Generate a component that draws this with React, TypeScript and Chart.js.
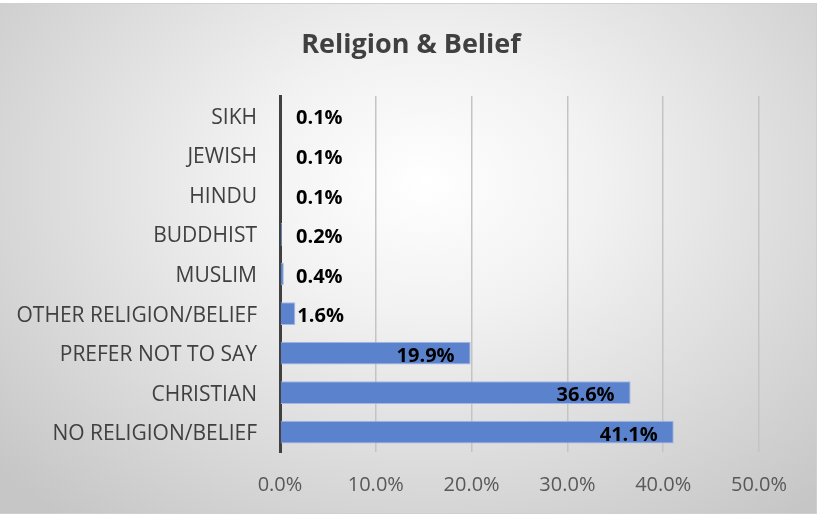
import React, { useEffect, useRef } from "react";
import { Chart, registerables } from "chart.js";

Chart.register(...registerables);

const categories = [
  "SIKH",
  "JEWISH",
  "HINDU",
  "BUDDHIST",
  "MUSLIM",
  "OTHER RELIGION/BELIEF",
  "PREFER NOT TO SAY",
  "CHRISTIAN",
  "NO RELIGION/BELIEF",
];
const values = [0.1, 0.1, 0.1, 0.2, 0.4, 1.6, 19.9, 36.6, 41.1];
const titleText = "Religion & Belief";
const xMax = 50;
const xStep = 10;

const FONT = "'Open Sans', 'DejaVu Sans', sans-serif";

const labelPlugin = {
  id: "barLabels",
  afterDatasetsDraw(chart: any) {
    const ctx = chart.ctx;
    const meta = chart.getDatasetMeta(0);
    ctx.save();
    ctx.font = `bold 20px ${FONT}`;
    ctx.fillStyle = "#000000";
    ctx.textBaseline = "middle";
    meta.data.forEach((bar: any, i: number) => {
      const v = values[i];
      const txt = v.toFixed(1) + "%";
      if (v >= 10) {
        ctx.textAlign = "right";
        ctx.fillText(txt, bar.x - 16, bar.y + 3);
      } else {
        ctx.textAlign = "left";
        ctx.fillText(txt, Math.max(bar.x + 2, chart.chartArea.left + 16), bar.y + 3);
      }
    });
    ctx.restore();
  },
};

const titlePlugin = {
  id: "customTitle",
  afterDraw(chart: any) {
    const ctx = chart.ctx;
    ctx.save();
    ctx.font = `bold 27px ${FONT}`;
    ctx.fillStyle = "#404040";
    ctx.textAlign = "center";
    ctx.textBaseline = "middle";
    ctx.fillText(titleText, 411, 45);
    ctx.restore();
  },
};

export default function App() {
  const ref = useRef<HTMLCanvasElement>(null);
  useEffect(() => {
    document.body.style.margin = "0";
    const chart = new Chart(ref.current!, {
      type: "bar",
      data: {
        labels: categories,
        datasets: [
          {
            data: values,
            backgroundColor: "#5b82cd",
            borderColor: "#a3b9e4",
            borderWidth: 1,
            barPercentage: 0.575,
            categoryPercentage: 1,
          },
        ],
      },
      options: {
        indexAxis: "y",
        animation: false,
        responsive: false,
        layout: { padding: { top: 96, right: 60, bottom: 0, left: 0 } },
        plugins: { legend: { display: false }, tooltip: { enabled: false }, title: { display: false } },
        scales: {
          x: {
            min: 0,
            max: xMax,
            ticks: {
              stepSize: xStep,
              padding: 21,
              color: "#595959",
              font: { family: FONT, size: 20 },
              callback: (v: any) => Number(v).toFixed(1) + "%",
            },
            grid: { color: "#c4c4c4", lineWidth: 1.5, drawTicks: false },
            border: { display: false },
            afterFit: (s: any) => {
              s.height = 64;
            },
          },
          y: {
            ticks: {
              padding: 23,
              labelOffset: 2,
              color: "#404040",
              font: { family: FONT, size: 21 },
            },
            grid: { display: false, drawTicks: false },
            border: { display: true, color: "#404040", width: 3 },
            afterFit: (s: any) => {
              s.width = 280;
            },
          },
        },
      },
      plugins: [labelPlugin, titlePlugin],
    });
    return () => chart.destroy();
  }, []);
  return (
    <div style={{ position: "relative", width: 819, height: 516, background: "#ffffff" }}>
      <div
        style={{
          position: "absolute",
          left: 0,
          top: 3,
          width: 816,
          height: 509,
          border: "1px solid #d0d0d0",
          borderLeft: "none",
          background: "radial-gradient(ellipse 70% 85% at 52% 35%, #ffffff 0%, #f2f2f2 30%, #c6c6c6 100%)",
        }}
      />
      <canvas ref={ref} width={819} height={516} style={{ position: "absolute", left: 0, top: 0 }} />
    </div>
  );
}
